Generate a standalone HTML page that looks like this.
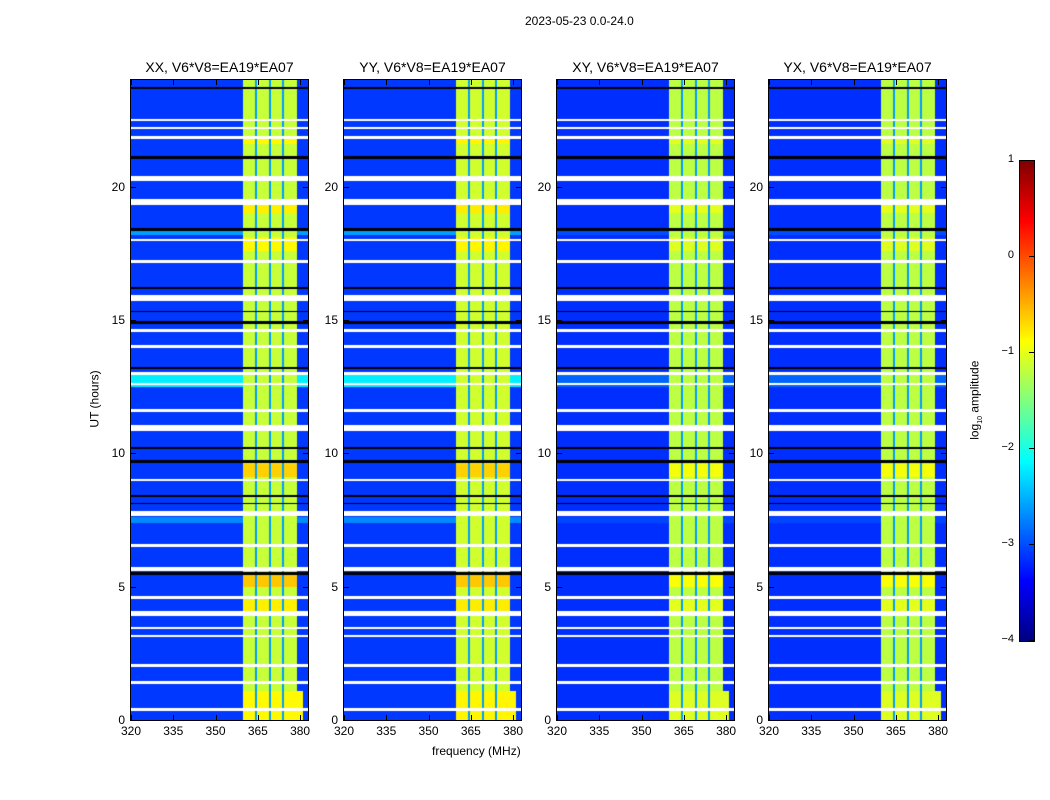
<!DOCTYPE html>
<html><head><meta charset="utf-8"><style>
body{margin:0;background:#fff;width:1050px;height:800px;overflow:hidden;position:relative;font-family:"Liberation Sans","DejaVu Sans",sans-serif;}
.t{position:absolute;font-size:12px;color:#000;white-space:nowrap}
canvas{position:absolute}
</style></head><body>
<div class="t" style="left:525px;top:14px">2023-05-23 0.0-24.0</div>
<div class="t" style="left:432px;top:744px">frequency (MHz)</div>
<div class="t" style="left:66px;top:392px;transform:rotate(-90deg)">UT (hours)</div>
<div class="t" style="left:936px;top:392px;transform:rotate(-90deg)">log<sub style="font-size:7px">10</sub> amplitude</div>
<div id="root"></div>
<script>
// ---- data ----
const panelNames=["XX, V6*V8=EA19*EA07","YY, V6*V8=EA19*EA07","XY, V6*V8=EA19*EA07","YX, V6*V8=EA19*EA07"];
const xTicks=[320,335,350,365,380];
const yTicks=[0,5,10,15,20];
const cbTicks=[1,0,-1,-2,-3,-4];
const bgLevel=[-3.1,-3.1,-3.15,-3.15];
const bandLevel=[-1.15,-1.1,-1.2,-1.2];
const brightScale=[1,0.9,0.55,0.55];
const bandStart=359.8, bandEnd=378.9;
const subbandDips=[364.4,369.3,374.0];
const whiteGaps=[[20.2,20.4],[19.3,19.55],[15.7,15.95],[10.85,11.05],[7.65,7.85],[5.6,5.75],[3.9,4.1],[22.45,22.55],[22.15,22.25],[17.95,18.05],[17.15,17.25],[14.55,14.65],[13.95,14.05],[12.55,12.65],[11.55,11.65],[8.95,9.05],[6.5,6.6],[4.55,4.65],[3.4,3.5],[3.1,3.2],[2.0,2.1],[1.35,1.45],[0.35,0.45],[21.8,21.9],[12.95,13.05]];
const blackLines=[[23.65,23.75],[21.05,21.15],[18.35,18.45],[16.15,16.25],[14.85,14.95],[13.15,13.25],[10.15,10.25],[9.65,9.75],[8.35,8.45],[5.45,5.55],[15.3,15.35],[8.1,8.15]];
const brightRows=[[5.0,5.5,0.55],[4.1,4.5,0.35],[9.1,9.6,0.5],[17.6,18.1,0.3],[19.0,19.3,0.35],[21.6,21.9,0.3],[0.0,1.1,0.3]];
const lightRows=[[12.5,13.0,0.9],[18.2,18.4,0.5],[7.4,7.6,0.4]];
// ---- geometry ----
const lefts=[131,344,557,769], PT=80, W=177, H=640;
const f0=320, f1=382.8, t1=24;
const xs=f=>(f-f0)/(f1-f0)*W, ys=h=>H-h/t1*H;
function jet(n){n=Math.max(0,Math.min(1,n));
 const c=x=>Math.max(0,Math.min(1,x));
 return [c(1.5-Math.abs(4*n-3)),c(1.5-Math.abs(4*n-2)),c(1.5-Math.abs(4*n-1))].map(v=>Math.round(v*255));}
const inR=(arr,h)=>arr.find(r=>h>=r[0]&&h<r[1]);
const root=document.getElementById('root');
function el(tag,css,txt){const e=document.createElement(tag);e.style.cssText=css;if(txt!==undefined)e.textContent=txt;root.appendChild(e);return e;}
lefts.forEach((L,p)=>{
 const cv=el('canvas',`left:${L}px;top:${PT}px;`);cv.width=W;cv.height=H;
 
 
 const ctx=cv.getContext('2d');const img=ctx.createImageData(W,H);
 for(let y=0;y<H;y++){const h=(H-y-0.5)/H*t1;
  const wg=inR(whiteGaps,h), bl=inR(blackLines,h), br=inR(brightRows,h), lr=inR(lightRows,h);
  for(let x=0;x<W;x++){const f=f0+(x+0.5)/W*(f1-f0);let col;
   if(wg)col=[255,255,255];else if(bl)col=[0,0,0];else{
    let v;
    const band=f>=bandStart&&(f<bandEnd||(h<1.1&&f<381));
    if(band){v=bandLevel[p];if(subbandDips.some(d=>Math.abs(f-d)<0.35))v=-2.6;else if(br)v+=br[2]*brightScale[p];}
    else{v=bgLevel[p];if(lr&&p<2)v+=lr[2];else if(lr)v+=lr[2]*0.3;}
    col=jet((v+4)/5);}
   const i=(y*W+x)*4;img.data[i]=col[0];img.data[i+1]=col[1];img.data[i+2]=col[2];img.data[i+3]=255;}}
 ctx.putImageData(img,0,0);
 const fr=el('div',`position:absolute;left:${L-1}px;top:${PT-1}px;width:${W}px;height:${H}px;border:1px solid #000;`);
 
 
 const tt=el('div',`position:absolute;left:${L}px;top:59px;width:${W}px;text-align:center;font-size:14px;`,panelNames[p]);
 
 
 xTicks.forEach(v=>{const x=L+xs(v);
  const lb=el('div',`position:absolute;left:${x-20}px;top:724px;width:40px;text-align:center;font-size:12px;`,v);
  
  
  el('div',`position:absolute;left:${x}px;top:${PT+H-5}px;width:1px;height:5px;background:#000`);
  el('div',`position:absolute;left:${x}px;top:${PT}px;width:1px;height:5px;background:#000`);});
 yTicks.forEach(v=>{const y=PT+ys(v);
  const lb=el('div',`position:absolute;left:${L-40}px;top:${y-7}px;width:34px;text-align:right;font-size:12px;`,v);
  
  
  el('div',`position:absolute;left:${L}px;top:${y}px;width:5px;height:1px;background:#000`);
  el('div',`position:absolute;left:${L+W-5}px;top:${y}px;width:5px;height:1px;background:#000`);});
});
// colorbar
const cb=el('canvas','left:1019px;top:160px;border:1px solid #000;');cb.width=14;cb.height=480;


const cc=cb.getContext('2d');
for(let y=0;y<480;y++){const c=jet(1-(y+0.5)/480);cc.fillStyle=`rgb(${c})`;cc.fillRect(0,y,14,1);}
cbTicks.forEach(v=>{const y=160+(1-v)/5*480;
 const lb=el('div',`position:absolute;left:990px;top:${y-7}px;width:24px;text-align:right;font-size:11px;`,v<0?'\u2212'+(-v):v);
 
 
 el('div',`position:absolute;left:1029px;top:${y}px;width:5px;height:1px;background:#000`);});
</script>
</body></html>
